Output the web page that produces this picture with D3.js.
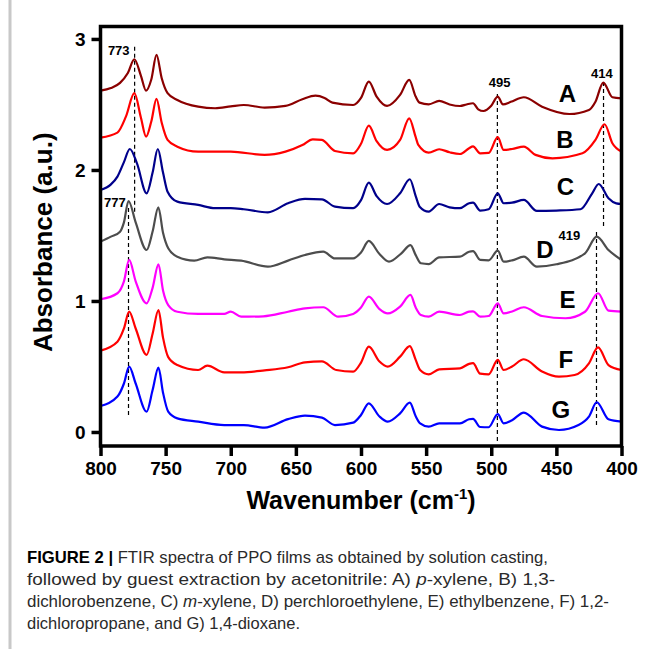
<!DOCTYPE html>
<html>
<head>
<meta charset="utf-8">
<script src="https://cdn.jsdelivr.net/npm/d3@7"></script>
<style>
  body { margin: 0; background: #fff; }
  svg { display: block; font-family: Arial, "Liberation Sans", sans-serif; }
</style>
</head>
<body>
<div id="chart"></div>
<script>
// spectra: [wavenumber, absorbance]
const specA = [[800,2.605],[792,2.625],[785,2.665],[779,2.74],[774,2.845],[769,2.72],[765,2.605],[761,2.69],[757,2.878],[753,2.70],[748.5,2.586],[741,2.534],[725,2.483],[712,2.471],[700,2.485],[690,2.496],[674,2.476],[658,2.489],[645,2.54],[635,2.567],[628,2.55],[622,2.514],[606,2.496],[600,2.55],[594,2.674],[588,2.56],[580,2.489],[570,2.573],[563,2.687],[558,2.56],[555,2.514],[548,2.501],[540,2.527],[532,2.50],[524,2.488],[519,2.50],[514,2.509],[510,2.463],[506,2.45],[500,2.49],[495,2.56],[491,2.50],[485,2.52],[475,2.555],[461,2.483],[440,2.427],[425,2.458],[420,2.521],[414,2.667],[407,2.555],[400,2.547]];
const specB = [[800,2.247],[787,2.285],[780.5,2.407],[774,2.586],[769,2.40],[765,2.254],[761,2.37],[757,2.542],[753,2.36],[748.5,2.229],[741,2.178],[725,2.140],[700,2.140],[674,2.115],[658,2.140],[645,2.19],[637,2.234],[630,2.229],[620,2.145],[606,2.127],[600,2.20],[594,2.338],[588,2.22],[580,2.153],[570,2.229],[563,2.394],[558,2.25],[556,2.191],[548,2.132],[540,2.158],[532,2.135],[524,2.122],[517,2.166],[514,2.18],[508.5,2.127],[502,2.13],[495,2.250],[490.5,2.153],[484,2.16],[475,2.178],[466,2.115],[453,2.089],[430,2.127],[420,2.229],[413,2.349],[407,2.204],[400,2.140]];
const specC = [[800,1.847],[792,1.89],[787,1.949],[782,2.06],[777.5,2.160],[772,2.05],[764.6,1.822],[760,1.98],[756,2.160],[752,1.98],[748.5,1.834],[741,1.758],[725,1.733],[712,1.708],[700,1.708],[690,1.70],[671.5,1.677],[656,1.746],[643,1.779],[630,1.776],[620,1.720],[606,1.708],[600,1.77],[594,1.903],[588,1.80],[580,1.740],[570,1.822],[562.5,1.929],[558,1.80],[555,1.720],[548,1.682],[540,1.740],[532,1.715],[524,1.708],[517,1.746],[514,1.75],[508.5,1.690],[502,1.70],[495,1.822],[490.5,1.746],[484,1.75],[475,1.771],[465,1.687],[450,1.69],[431.5,1.700],[422.5,1.822],[417.5,1.893],[410,1.784],[404,1.745],[400,1.740]];
const specD = [[800,1.453],[792,1.491],[785,1.529],[782,1.60],[778.5,1.763],[773,1.60],[764.6,1.389],[760,1.53],[755.6,1.715],[752,1.52],[748,1.402],[741,1.338],[728,1.308],[718,1.333],[705,1.318],[692,1.308],[671.5,1.262],[656,1.308],[643,1.351],[629,1.376],[620,1.325],[606,1.325],[600,1.37],[594,1.458],[586,1.36],[578.5,1.300],[569,1.364],[562,1.427],[558,1.35],[554,1.288],[548,1.282],[540,1.333],[524,1.338],[517,1.376],[514,1.38],[508.5,1.313],[502,1.31],[495,1.384],[490.5,1.300],[484,1.31],[475,1.338],[465,1.262],[450,1.28],[428,1.364],[419,1.491],[410,1.389],[400,1.313]];
const specE = [[800,1.013],[787,1.059],[782,1.15],[778,1.313],[773,1.15],[764.6,0.982],[760,1.10],[755.5,1.280],[752,1.08],[748,0.969],[741,0.918],[725,0.901],[705,0.901],[700,0.918],[692,0.880],[675,0.883],[656,0.918],[643,0.944],[629,0.952],[617.5,0.880],[606,0.901],[600,0.95],[594,1.033],[586,0.94],[579.5,0.905],[570,0.957],[562,1.046],[558,0.95],[554,0.893],[548,0.880],[540,0.918],[524,0.893],[517,0.918],[514,0.92],[508.5,0.88],[502,0.885],[495,0.982],[490.5,0.905],[484,0.92],[475,0.952],[461,0.885],[443,0.868],[428,0.918],[418,1.059],[410,0.926],[400,0.918]];
const specF = [[800,0.621],[787,0.689],[782,0.79],[778,0.918],[773,0.79],[764.6,0.588],[760,0.75],[755.5,0.931],[752,0.72],[748,0.571],[741,0.511],[725,0.473],[718,0.506],[705,0.455],[692,0.455],[674,0.47],[656,0.494],[643,0.532],[630,0.539],[619,0.473],[606,0.461],[600,0.53],[594,0.651],[586,0.54],[579.5,0.499],[570,0.575],[562.5,0.656],[558,0.55],[554.6,0.473],[548,0.440],[540,0.478],[524,0.486],[517,0.52],[514,0.525],[508.5,0.445],[502,0.44],[495,0.550],[490.5,0.473],[484,0.50],[475,0.555],[461,0.461],[448,0.422],[436,0.435],[425,0.524],[418,0.646],[410,0.511],[400,0.473]];
const specG = [[800,0.198],[787,0.270],[782,0.37],[778,0.499],[773,0.37],[764.6,0.155],[760,0.32],[755.5,0.491],[752,0.30],[748,0.155],[741,0.104],[725,0.079],[705,0.053],[690,0.053],[674,0.033],[656,0.098],[643,0.125],[630,0.110],[620,0.053],[606,0.071],[600,0.13],[594,0.219],[586,0.12],[579.5,0.079],[570,0.142],[562.5,0.224],[558,0.12],[554.6,0.066],[548,0.041],[540,0.066],[524,0.066],[517,0.097],[514,0.10],[508.5,0.038],[502,0.036],[495,0.137],[490.5,0.066],[484,0.09],[475,0.148],[461,0.041],[448,0.015],[433,0.053],[425,0.117],[419,0.227],[410,0.097],[400,0.079]];

const seriesNames = ["A", "B", "C", "D", "E", "F", "G"];
const seriesColors = ["#8b0000", "#ff0000", "#00008b", "#4d4d4d", "#ff00ff", "#ff0000", "#0000ff"];
const xTicks = [800, 750, 700, 650, 600, 550, 500, 450, 400];
const yTicks = [0, 1, 2, 3];

// marker lines: wavenumber, label, from, to (absorbance)
const markers = [
  { wn: 773.8, label: "773", y0: 2.94, y1: 1.68 },
  { wn: 778.5, label: "777", y0: 1.71, y1: 0.115 },
  { wn: 495.3, label: "495", y0: 2.58, y1: -0.076 },
  { wn: 413.8, label: "414", y0: 2.672, y1: 1.557 },
  { wn: 419.2, label: "419", y0: 1.527, y1: 0.031 }
];

const captionLines = [
  [["FIGURE 2 | ", "b"], ["FTIR spectra of PPO films as obtained by solution casting,", ""]],
  [["followed by guest extraction by acetonitrile: A) ", ""], ["p", "i"], ["-xylene, B) 1,3-", ""]],
  [["dichlorobenzene, C) ", ""], ["m", "i"], ["-xylene, D) perchloroethylene, E) ethylbenzene, F) 1,2-", ""]],
  [["dichloropropane, and G) 1,4-dioxane.", ""]]
];

const width = 652;
const height = 649;

const svg = d3.select("#chart").append("svg")
  .attr("width", width)
  .attr("height", height);

// gray page border at left
svg.append("line")
  .attr("x1", 10).attr("x2", 10)
  .attr("y1", 0).attr("y2", height)
  .attr("stroke", "#c8c8c8")
  .attr("stroke-width", 3);

const x = d3.scaleLinear().domain([800, 400]).range([100.5, 621.5]);
const y = d3.scaleLinear().domain([-0.107, 3.095]).range([446, 26.5]);

// dashed marker lines
svg.selectAll(".marker")
  .data(markers)
  .enter()
  .append("line")
  .attr("class", "marker")
  .attr("x1", (d) => x(d.wn)).attr("x2", (d) => x(d.wn))
  .attr("y1", (d) => y(d.y0)).attr("y2", (d) => y(d.y1))
  .attr("stroke", "#000")
  .attr("stroke-width", 1.2)
  .attr("stroke-dasharray", "4,3");

// spectra
const line = d3.line()
  .x((d) => x(d[0]))
  .y((d) => y(d[1]))
  .curve(d3.curveMonotoneX);

const spectra = [specA, specB, specC, specD, specE, specF, specG];

svg.selectAll(".spec")
  .data(spectra)
  .enter()
  .append("path")
  .attr("class", "spec")
  .attr("d", line)
  .attr("fill", "none")
  .attr("stroke", (d, i) => seriesColors[i])
  .attr("stroke-width", 2.2)
  .attr("stroke-linejoin", "round");

// frame
svg.append("rect")
  .attr("x", x(800)).attr("y", y(3.095))
  .attr("width", x(400) - x(800))
  .attr("height", y(-0.107) - y(3.095))
  .attr("fill", "none")
  .attr("stroke", "#000")
  .attr("stroke-width", 3.5);

const xAxis = svg.append("g")
  .attr("transform", `translate(0,${y(-0.107)})`)
  .call(d3.axisBottom(x).tickValues(xTicks).tickSize(10).tickPadding(6).tickFormat(d3.format("d")));

const yAxis = svg.append("g")
  .attr("transform", `translate(${x(800)},0)`)
  .call(d3.axisLeft(y).tickValues(yTicks).tickSize(9).tickPadding(6).tickFormat(d3.format("d")));

[xAxis, yAxis].forEach((g) => {
  g.select(".domain").remove();
  g.selectAll(".tick line").attr("stroke", "#000").attr("stroke-width", 3.5);
  g.selectAll(".tick text")
    .attr("fill", "#000")
    .style("font-size", "19px")
    .style("font-weight", "bold")
    .style("font-family", "Arial, 'Liberation Sans', sans-serif");
});

// axis titles
svg.append("text")
  .attr("transform", `translate(52,${(y(3.095) + y(-0.107)) / 2 + 6}) rotate(-90)`)
  .attr("text-anchor", "middle")
  .style("font-size", "26px")
  .style("font-weight", "bold")
  .text("Absorbance (a.u.)");

const xTitle = svg.append("text")
  .attr("x", 361)
  .attr("y", 509)
  .attr("text-anchor", "middle")
  .style("font-size", "25px")
  .style("font-weight", "bold");
xTitle.append("tspan").text("Wavenumber (cm");
xTitle.append("tspan").attr("dy", -10).style("font-size", "15px").text("-1");
xTitle.append("tspan").attr("dy", 10).text(")");

// series letters
const letterPos = [[441.5, 2.519], [443.5, 2.168], [443, 1.809], [458.8, 1.328], [441.5, 0.947], [442.7, 0.489], [446.5, 0.107]];
svg.selectAll(".letter")
  .data(seriesNames)
  .enter()
  .append("text")
  .attr("class", "letter")
  .attr("x", (d, i) => x(letterPos[i][0]))
  .attr("y", (d, i) => y(letterPos[i][1]))
  .attr("text-anchor", "middle")
  .style("font-size", "24px")
  .style("font-weight", "bold")
  .text((d) => d);

// peak labels
const labelPos = { "773": [786, 2.88], "777": [789, 1.72], "495": [493.5, 2.63], "414": [415, 2.70], "419": [440, 1.466] };
svg.selectAll(".peak")
  .data(markers)
  .enter()
  .append("text")
  .attr("class", "peak")
  .attr("x", (d) => x(labelPos[d.label][0]))
  .attr("y", (d) => y(labelPos[d.label][1]))
  .attr("text-anchor", "middle")
  .style("font-size", "13px")
  .style("font-weight", "bold")
  .text((d) => d.label);

// caption
const capWidths = [521, 528, 582, 273];
const caption = svg.append("g").attr("fill", "#2a2a2a");
captionLines.forEach((parts, i) => {
  const t = caption.append("text")
    .attr("x", 27)
    .attr("y", 563 + i * 22)
    .attr("textLength", capWidths[i])
    .attr("lengthAdjust", "spacingAndGlyphs")
    .style("font-size", "17px");
  parts.forEach(([s, f]) => {
    t.append("tspan")
      .style("font-weight", f === "b" ? "bold" : "normal")
      .style("font-style", f === "i" ? "italic" : "normal")
      .attr("fill", f === "b" ? "#000" : null)
      .text(s);
  });
});
</script>
</body>
</html>
